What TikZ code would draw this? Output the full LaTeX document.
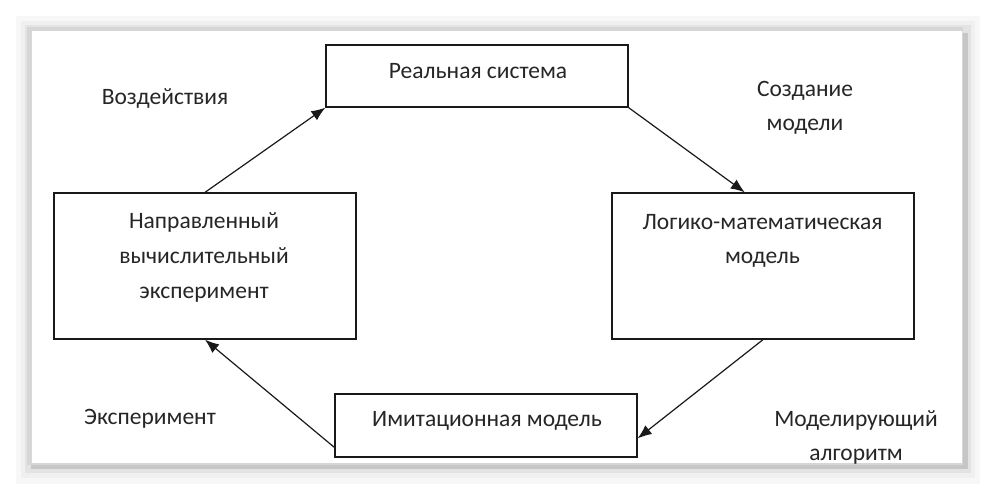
\documentclass[tikz,border=0pt]{standalone}
\usepackage{fontspec}
\setmainfont{Carlito}
\usetikzlibrary{arrows.meta,calc}
\begin{document}
\begin{tikzpicture}[x=1pt,y=-1pt,
  box/.style={draw=black!90,line width=1.3pt,fill=white,inner sep=0pt},
  txt/.style={anchor=base,text=black!85,font=\fontsize{23.5}{35}\selectfont,inner sep=0pt},
  arr/.style={draw=black!90,line width=1.2pt,-{Latex[length=14pt,width=11pt]}}]
\useasboundingbox (0,0) rectangle (993,495);
% frame with soft shadow
\fill[white] (0,0) rectangle (993,495);
\fill[gray!6] (16,16) rectangle (980,484);
\fill[gray!12] (21,21) rectangle (975,478);
\fill[gray!22] (25,25) rectangle (971,473);
\fill[gray!45] (31,33) rectangle (968,469);
\fill[gray!32] (27,27) rectangle (963,465);
\fill[white] (32,31) rectangle (962,463);
% boxes
\node[box,minimum width=302,minimum height=62] (R) at (477,76) {};
\node[box,minimum width=302,minimum height=146] (L) at (205,266) {};
\node[box,minimum width=302,minimum height=146] (Rt) at (763,266) {};
\node[box,minimum width=302,minimum height=63] (B) at (486,425.5) {};
% box texts
\node[txt] (Rtx) at (478,78) {Реальная система};
\node[txt] (L1) at (204,228) {Направленный};
\node[txt] (L2) at (204,263) {вычислительный};
\node[txt] (L3) at (204,298) {эксперимент};
\node[txt] (Rt1) at (762.5,229) {Логико-математическая};
\node[txt] (Rt2) at (762.5,263) {модель};
\node[txt] (Btx) at (487,426) {Имитационная модель};
% free labels
\node[txt] (lab1) at (165,104) {Воздействия};
\node[txt] (lab2a) at (805,96) {Создание};
\node[txt] (lab2b) at (805,130) {модели};
\node[txt] (lab3) at (150,424) {Эксперимент};
\node[txt] (lab4a) at (856,426) {Моделирующий};
\node[txt] (lab4b) at (856,460) {алгоритм};
% arrows
\draw[arr] (L.north) -- (R.south west);
\draw[arr] (R.south east) -- ($(Rt.north west)!0.44!(Rt.north east)$);
\draw[arr] (Rt.south) -- ($(B.north east)!0.7!(B.south east)$);
\draw[arr] ($(B.north west)!0.84!(B.south west)$) -- (L.south);
\end{tikzpicture}
\end{document}
